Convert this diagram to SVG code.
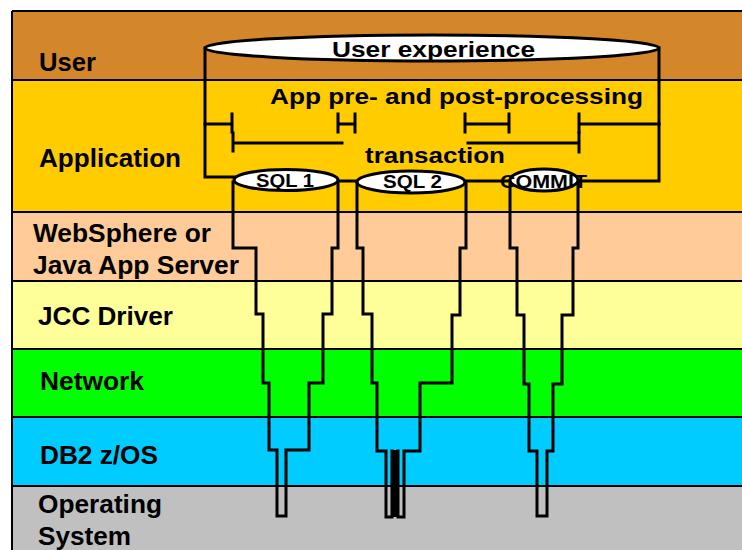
<svg xmlns="http://www.w3.org/2000/svg" width="742" height="550" viewBox="0 0 742 550">
<style>
text{font-family:"Liberation Sans",Arial,sans-serif;font-weight:bold;fill:#000}
.lbl{font-size:25px}
.hd{font-size:22px}
.sm{font-size:19px}
.ln{fill:none;stroke:#000;stroke-width:3;stroke-linecap:square;stroke-linejoin:miter}
.sep{stroke:#000;stroke-width:2}
.ell{fill:#fff;stroke:#000;stroke-width:3}
</style>
<rect width="742" height="550" fill="#fff"/>
<g id="bands">
<rect x="12" y="11" width="730" height="69" fill="#D4872A"/>
<rect x="12" y="80" width="730" height="132" fill="#FFCC00"/>
<rect x="12" y="212" width="730" height="69" fill="#FFCC99"/>
<rect x="12" y="281" width="730" height="68" fill="#FFFF99"/>
<rect x="12" y="349" width="730" height="68" fill="#00FF00"/>
<rect x="12" y="417" width="730" height="69" fill="#00CCFF"/>
<rect x="12" y="486" width="730" height="64" fill="#C0C0C0"/>
<line class="sep" x1="12" y1="11" x2="742" y2="11"/>
<line class="sep" x1="12" y1="11" x2="12" y2="550"/>
<line class="sep" x1="12" y1="80" x2="742" y2="80"/>
<line class="sep" x1="12" y1="212" x2="742" y2="212"/>
<line class="sep" x1="12" y1="281" x2="742" y2="281"/>
<line class="sep" x1="12" y1="349" x2="742" y2="349"/>
<line class="sep" x1="12" y1="417" x2="742" y2="417"/>
<line class="sep" x1="12" y1="486" x2="742" y2="486"/>
</g>
<g id="layer-labels">
<text class="lbl" x="39" y="71" textLength="57" lengthAdjust="spacingAndGlyphs">User</text>
<text class="lbl" x="39" y="167" textLength="142" lengthAdjust="spacingAndGlyphs">Application</text>
<text class="lbl" x="33" y="242" textLength="178" lengthAdjust="spacingAndGlyphs">WebSphere or</text>
<text class="lbl" x="33" y="274" textLength="206" lengthAdjust="spacingAndGlyphs">Java App Server</text>
<text class="lbl" x="38" y="325" textLength="135" lengthAdjust="spacingAndGlyphs">JCC Driver</text>
<text class="lbl" x="40" y="390" textLength="104" lengthAdjust="spacingAndGlyphs">Network</text>
<text class="lbl" x="40" y="464" textLength="118" lengthAdjust="spacingAndGlyphs">DB2 z/OS</text>
<text class="lbl" x="38" y="513" textLength="124" lengthAdjust="spacingAndGlyphs">Operating</text>
<text class="lbl" x="38" y="545" textLength="93" lengthAdjust="spacingAndGlyphs">System</text>
</g>
<g id="connectors">
<path class="ln" d="M205,48 V177 H236"/>
<path class="ln" d="M659,48 V181 H576"/>
<path class="ln" d="M336,181 H359"/>
<path class="ln" d="M463,181 H512"/>
<path class="ln" d="M205,124 H232 M232,114 V132 M338,114 V132 M355,114 V132 M338,124 H355 M465,114 V132 M509,114 V132 M465,124 H509 M579,114 V132 M579,124 H659"/>
<path class="ln" d="M233,133 V151 M233,143 H342 M468,143 H579 M579,133 V152"/>
<path class="ln" d="M233,182 V248 H256 V314 H263 V383 H269 V450 H277 V516 H286 V450 H309 V383 H323 V314 H332 V248 H338 V182"/>
<path class="ln" d="M357,183 V248 H363 V314 H372 V383 H377 V451 H386 V517 H392 V451"/>
<path class="ln" d="M466,183 V248 H460 V315 H452 V383 H420 V451 H404 V517 H398 V451"/>
<rect x="391" y="450" width="8" height="67" fill="#000"/>
<path class="ln" d="M510,182 V248 H517 V315 H524 V384 H529 V451 H537 V516 H547 V451 H553 V384 H562 V315 H573 V248 H578 V182"/>
</g>
<g id="user-experience">
<ellipse class="ell" cx="432" cy="48" rx="227" ry="13"/>
<text class="hd" x="332" y="57" textLength="203" lengthAdjust="spacingAndGlyphs">User experience</text>
</g>
<g id="app-processing">
<text class="hd" x="270" y="104" textLength="373" lengthAdjust="spacingAndGlyphs">App pre- and post-processing</text>
</g>
<g id="transaction">
<text class="hd" x="365" y="163" textLength="140" lengthAdjust="spacingAndGlyphs">transaction</text>
</g>
<g id="sql1">
<ellipse class="ell" cx="286" cy="180" rx="52" ry="10.5"/>
<text class="sm" x="256" y="187" textLength="58" lengthAdjust="spacingAndGlyphs">SQL 1</text>
</g>
<g id="sql2">
<ellipse class="ell" cx="411" cy="182" rx="54" ry="11"/>
<text class="sm" x="383" y="188" textLength="59" lengthAdjust="spacingAndGlyphs">SQL 2</text>
</g>
<g id="commit">
<ellipse class="ell" cx="544" cy="180" rx="34" ry="11"/>
<text class="sm" x="500" y="188" textLength="87" lengthAdjust="spacingAndGlyphs">COMMIT</text>
</g>
</svg>
